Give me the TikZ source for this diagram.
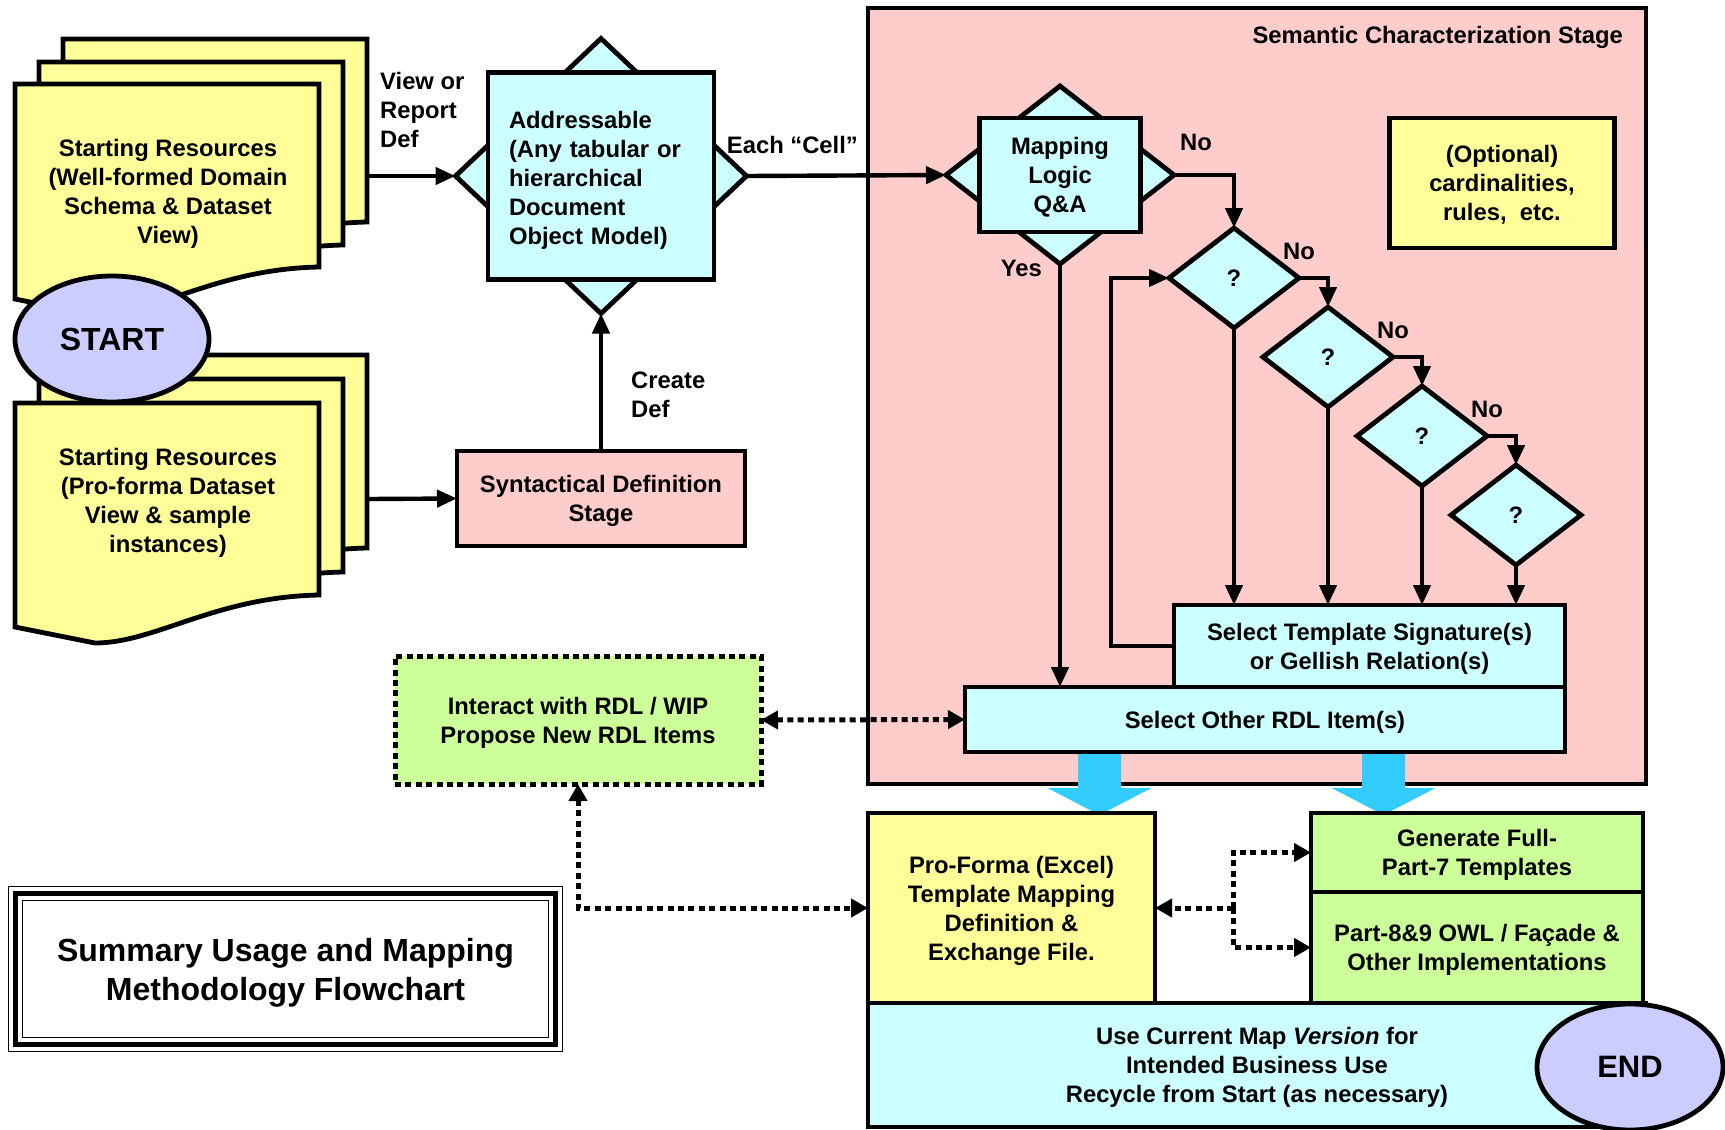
\documentclass[tikz,border=0pt]{standalone}
\usepackage{fontspec}
\setmainfont{Liberation Sans}
\usetikzlibrary{positioning,arrows.meta,shapes.geometric}
\definecolor{docyellow}{HTML}{FFFF99}
\definecolor{stagepink}{HTML}{FFCCCC}
\definecolor{qcyan}{HTML}{CCFFFF}
\definecolor{rdlgreen}{HTML}{CCFF99}
\definecolor{termblue}{HTML}{CCCCFF}
\definecolor{flowblue}{HTML}{33CCFF}
\tikzset{%
every node/.style={font=\bfseries\fontsize{11.9}{14.5}\selectfont},
box/.style={draw,rectangle,line width=2.4pt,align=center,inner sep=2pt,outer sep=0pt,text depth=-1.5pt},
decision/.style={draw,diamond,line width=2.4pt,fill=qcyan,inner sep=0pt,outer sep=0pt},
terminal/.style={draw,ellipse,line width=2.4pt,fill=termblue,inner sep=0pt},
docline/.style={draw,fill=docyellow,line width=2.4pt,line join=miter},
doctext/.style={align=center,text depth=-1.2pt},
flow/.style={->,line width=2.2pt},
dotline/.style={line width=2.5pt,dash pattern=on 3pt off 2.2pt},
dotflow/.style={dotline,>={Triangle[length=8.5pt,width=9pt]}},
lbl/.style={inner sep=2pt,align=left},
>={Triangle[length=10pt,width=8.5pt]},
pics/docpage/.style={code={
  \path[docline] (0,0) -- (304,0) -- (304,#1) .. controls (200,#1+2) and (140,#1+48) .. (80,#1+48) -- (0,#1+32) -- cycle;
}},
pics/bigarrow/.style={code={
  \fill[flowblue] (-21.5,0) -- (-21.5,34) -- (-52,34) -- (0,61) -- (52,34) -- (21.5,34) -- (21.5,0) -- cycle;
}}
}

\begin{document}
\begin{tikzpicture}[x=0.5pt,y=-0.5pt]
    \useasboundingbox (0,0) rectangle (1725,1130);

    % semantic stage
    \node[box,fill=stagepink,minimum width=389pt,minimum height=388pt,anchor=north west] (stage) at (868,8) {};
    \node[anchor=east] (stagetitle) at ([shift={(-16,29)}]stage.north east) {Semantic Characterization Stage};

    % starting resources
    \pic at (63,39) {docpage=183};
    \pic at (39,62) {docpage=183};
    \pic at (15,84) {docpage=183};
    \node[doctext] (resA) at (168,191) {Starting Resources\\(Well-formed Domain\\Schema \& Dataset\\View)};
    \pic at (63,355) {docpage=193};
    \pic at (39,379) {docpage=193};
    \pic at (15,403) {docpage=192};
    \node[doctext] (resB) at (168,500) {Starting Resources\\(Pro-forma Dataset\\View \& sample\\instances)};
    \node[terminal,minimum width=97pt,minimum height=63pt,font=\bfseries\fontsize{16}{19}\selectfont] (start) at (112,339) {START};
    \coordinate (stackA) at (368,176);
    \coordinate (stackB) at (368,499);

    % syntactical stage
    \node[decision,minimum width=145.5pt,minimum height=137.5pt] (addrdia) at (601,176) {};
    \node[box,fill=qcyan,align=left,text width=92pt,inner xsep=10.5pt,minimum height=103.5pt,text height=12.5pt,text depth=] (addr) at (addrdia) {Addressable\\(Any tabular or\\hierarchical\\Document\\Object Model)};
    \node[box,fill=stagepink,minimum width=144pt,minimum height=47.5pt] (syn) at (601,498.5) {Syntactical Definition\\Stage};

    % mapping logic
    \node[decision,minimum width=114pt,minimum height=89pt] (mapdia) at (1060,175) {};
    \node[box,fill=qcyan,minimum width=80.5pt,minimum height=57pt] (map) at (mapdia) {Mapping\\Logic\\Q\&A};
    \node[decision,minimum width=65pt,minimum height=50pt] (q1) at (1234,278) {?};
    \node[decision,minimum width=65pt,minimum height=50pt] (q2) at (1328,357) {?};
    \node[decision,minimum width=65pt,minimum height=50pt] (q3) at (1422,436) {?};
    \node[decision,minimum width=65pt,minimum height=50pt] (q4) at (1516,515) {?};
    \node[box,fill=docyellow,minimum width=112.5pt,minimum height=65pt] (opt) at (1502,183) {(Optional)\\cardinalities,\\rules,\ \ etc.};
    \node[box,fill=qcyan,minimum width=300pt,minimum height=32.5pt] (other) at (1265,719.5) {Select Other RDL Item(s)};
    \node[box,fill=qcyan,minimum width=195.5pt,minimum height=41pt,anchor=south east] (tmpl) at (other.north east) {Select Template Signature(s)\\or Gellish Relation(s)};

    \node[box,dotline,fill=rdlgreen,minimum width=183pt,minimum height=64pt] (rdl) at (578,720) {Interact with RDL / WIP\\Propose New RDL Items};

    % outputs
    \pic at (1099.5,754) {bigarrow};
    \pic at (1383.5,754) {bigarrow};
    \node[box,fill=docyellow,minimum width=143.5pt,minimum height=95pt] (pro) at (1011.5,908) {Pro-Forma (Excel)\\Template Mapping\\Definition \&\\Exchange File.};
    \node[box,fill=rdlgreen,minimum width=166pt,minimum height=39.5pt] (gen) at (1477,852.5) {Generate Full-\\Part-7 Templates};
    \node[box,fill=rdlgreen,minimum width=166pt,minimum height=55.5pt,below=0pt of gen] (impl) {Part-8\&9 OWL / Façade \&\\Other Implementations};
    \node[box,fill=qcyan,minimum width=389pt,minimum height=62pt,anchor=north west] (use) at (pro.south west) {Use Current Map \textit{Version} for\\Intended Business Use\\Recycle from Start (as necessary)};
    \node[terminal,minimum width=93pt,minimum height=63pt,font=\bfseries\fontsize{15.5}{18}\selectfont] (finish) at (1630,1067) {END};

    \path[flow] (stackA) edge node[lbl,pos=0,anchor=west,xshift=3pt,yshift=33pt]{View or\\Report\\Def} (addrdia.west)
                (stackB) edge (syn.west)
                (syn.north) edge node[lbl,pos=0.41,right=12pt]{Create\\Def} (addrdia.south)
                (addrdia.east) edge node[lbl,pos=0.23,above=8pt]{Each “Cell”} (mapdia.west);

    \draw[flow] (mapdia.east) -| node[lbl,pos=0,anchor=south west,yshift=9pt]{No} (q1.north);
    \draw[flow] (mapdia.south) -- node[lbl,pos=0,left=6pt,yshift=-2pt]{Yes} (mapdia.south |- other.north);
    \draw[flow] (q1.east) -| node[lbl,pos=0,above=6pt]{No} (q2.north);
    \draw[flow] (q2.east) -| node[lbl,pos=0,above=6pt]{No} (q3.north);
    \draw[flow] (q3.east) -| node[lbl,pos=0,above=6pt]{No} (q4.north);
    \draw[flow] (q1.south) -- (q1.south |- tmpl.north);
    \draw[flow] (q2.south) -- (q2.south |- tmpl.north);
    \draw[flow] (q3.south) -- (q3.south |- tmpl.north);
    \draw[flow] (q4.south) -- (q4.south |- tmpl.north);
    \draw[flow] (tmpl.west) -- ++(-63,0) |- (q1.west);

    \draw[dotflow,<->] (rdl.east) -- (other.west);
    \draw[dotflow,<->] (rdl.south) |- (pro.west);
    \coordinate (fork) at (1233,908);
    \draw[dotflow,->] (fork) -- (pro.east);
    \draw[dotflow,->] (fork) |- (gen.west);
    \draw[dotflow,->] (fork) |- (impl.west);

    % title
    \node[minimum width=276.5pt,minimum height=82pt,align=center,font=\bfseries\fontsize{16}{19.5}\selectfont,text depth=0pt] (title) at (285.5,969) {Summary Usage and Mapping\\Methodology Flowchart};
    \draw[line width=0.8pt] (title.north west) rectangle (title.south east);
    \draw[line width=2.5pt] ([shift={(7,7)}]title.north west) rectangle ([shift={(-7,-7)}]title.south east);
    \draw[line width=0.8pt] ([shift={(14,14)}]title.north west) rectangle ([shift={(-14,-14)}]title.south east);

  \end{tikzpicture}
\end{document}
